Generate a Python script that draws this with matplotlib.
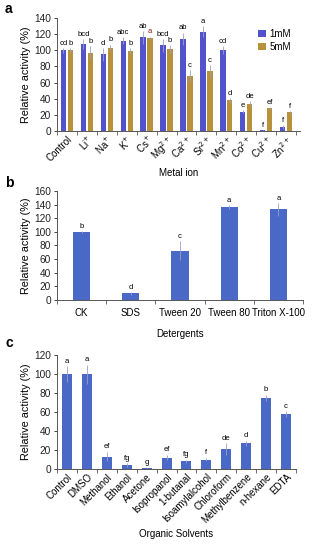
import matplotlib
matplotlib.use("Agg")
import matplotlib.pyplot as plt
import numpy as np

plt.rcParams['font.family'] = ['Liberation Sans', 'DejaVu Sans']

# Panel a
metals = ['Control', 'Li$^{+}$', 'Na$^{+}$', 'K$^{+}$', 'Cs$^{+}$', 'Mg$^{2+}$', 'Ca$^{2+}$',
          'Sr$^{2+}$', 'Mn$^{2+}$', 'Co$^{2+}$', 'Cu$^{2+}$', 'Zn$^{2+}$']
a_1mM = [100, 108, 95, 112, 116, 106, 114, 123, 100, 24, 1, 5]
a_1mM_err = [3, 6, 8, 4, 8, 8, 8, 7, 5, 2, 0.5, 2]
a_5mM = [100, 97, 103, 99, 115, 101, 68, 74, 38, 34, 28, 23]
a_5mM_err = [3, 8, 4, 4, 2, 5, 7, 8, 3, 3, 2, 2]
a_lab1 = ['cd', 'bcd', 'd', 'abc', 'ab', 'bcd', 'ab', 'a', 'cd', 'e', 'f', 'f']
a_lab5 = ['b', 'b', 'b', 'b', 'a', 'b', 'c', 'c', 'd', 'de', 'ef', 'f']

# Panel b
detergents = ['CK', 'SDS', 'Tween 20', 'Tween 80', 'Triton X-100']
b_vals = [100, 10, 72, 136, 133]
b_err = [1, 2, 14, 3, 10]
b_lab = ['b', 'd', 'c', 'a', 'a']

# Panel c
solvents = ['Control', 'DMSO', 'Methanol', 'Ethanol', 'Acetone', 'Isopropanol', '1-butanal',
            'Isoamylalcohol', 'Chloroform', 'Methylbenzene', 'n-hexane', 'EDTA']
c_vals = [100, 100, 13, 4, 1, 12, 8, 10, 21, 27, 75, 58]
c_err = [8, 10, 5, 2, 0.5, 3, 2, 2, 6, 3, 3, 3]
c_lab = ['a', 'a', 'ef', 'fg', 'g', 'ef', 'fg', 'f', 'de', 'd', 'b', 'c']

c1 = '#5252CC'
c5 = '#B8923A'
cb = '#4A68C6'
err_c = '#9AA0C8'

fig = plt.figure(figsize=(3.13, 5.5), dpi=100)
W, H = 313, 550

def ax_px(l, t, r, b):
    return fig.add_axes([l / W, 1 - b / H, (r - l) / W, (b - t) / H])

fs = 7
yfs = 7.8
lfs = 5.5

def style(ax):
    for s in ['top', 'right']:
        ax.spines[s].set_visible(False)
    for s in ['left', 'bottom']:
        ax.spines[s].set_color('#555555')
        ax.spines[s].set_linewidth(0.7)
    ax.tick_params(axis='y', labelsize=fs + 0.3, length=2.5, width=0.6, pad=2, colors='#222222')
    ax.tick_params(axis='x', which='major', length=0, labelsize=fs, pad=2)
    ax.tick_params(axis='x', which='minor', length=3, width=0.6, color='#555555')

# ---- a ----
ax = ax_px(57, 18, 300, 131)
n = len(metals)
x = np.arange(n)
w = 0.27
off = 0.175
ax.bar(x - off, a_1mM, w, color=c1, label='1mM', yerr=a_1mM_err,
       error_kw=dict(ecolor=err_c, lw=0.6, capsize=0), zorder=2)
ax.bar(x + off, a_5mM, w, color=c5, label='5mM', yerr=a_5mM_err,
       error_kw=dict(ecolor=err_c, lw=0.6, capsize=0), zorder=2)
for i in range(n):
    ax.text(x[i] - off, a_1mM[i] + a_1mM_err[i] + 1.5, a_lab1[i], ha='center', va='bottom', fontsize=lfs)
    ax.text(x[i] + off, a_5mM[i] + a_5mM_err[i] + 1.5, a_lab5[i], ha='center', va='bottom', fontsize=lfs,
            color='#8B1A1A' if a_lab5[i] == 'a' else 'black')
ax.set_xlim(-0.5, n - 0.3)
ax.set_ylim(0, 140)
ax.set_yticks(range(0, 141, 20))
ax.set_xticks(x)
ax.set_xticklabels(metals, rotation=45, ha='right', rotation_mode='anchor', fontsize=fs)
ax.set_xticks(np.arange(n + 1) - 0.5, minor=True)
style(ax)
ax.set_ylabel('Relative activity (%)', fontsize=yfs, labelpad=2)
ax.set_xlabel('Metal ion', fontsize=fs, labelpad=3)
ax.legend(loc='upper right', bbox_to_anchor=(1.0, 0.98), frameon=False, fontsize=fs,
          handlelength=0.8, handleheight=0.8, handletextpad=0.4, labelspacing=0.3)
fig.text(5 / W, 1 - 9 / H, 'a', fontsize=10, fontweight='bold', va='center')

# ---- b ----
ax = ax_px(57, 191, 303, 300)
n = len(detergents)
x = np.arange(n)
ax.bar(x, b_vals, 0.35, color=cb, yerr=b_err,
       error_kw=dict(ecolor=err_c, lw=0.6, capsize=0), zorder=2)
for i in range(n):
    ax.text(x[i], b_vals[i] + b_err[i] + 1.5, b_lab[i], ha='center', va='bottom', fontsize=lfs)
ax.set_xlim(-0.5, n - 0.5)
ax.set_ylim(0, 160)
ax.set_yticks(range(0, 161, 20))
ax.set_xticks(x)
ax.set_xticklabels(detergents, fontsize=fs)
ax.set_xticks(np.arange(n + 1) - 0.5, minor=True)
style(ax)
ax.tick_params(axis='x', which='major', pad=6)
ax.set_ylabel('Relative activity (%)', fontsize=yfs, labelpad=2)
ax.set_xlabel('Detergents', fontsize=fs, labelpad=8)
fig.text(5 / W, 1 - 183 / H, 'b', fontsize=10, fontweight='bold', va='center')

# ---- c ----
ax = ax_px(57, 355, 296, 469)
n = len(solvents)
x = np.arange(n)
ax.bar(x, c_vals, 0.5, color=cb, yerr=c_err,
       error_kw=dict(ecolor=err_c, lw=0.6, capsize=0), zorder=2)
for i in range(n):
    ax.text(x[i], c_vals[i] + c_err[i] + 1.5, c_lab[i], ha='center', va='bottom', fontsize=lfs)
ax.set_xlim(-0.45, n - 0.5)
ax.set_ylim(0, 120)
ax.set_yticks(range(0, 121, 20))
ax.set_xticks(x)
ax.set_xticklabels(solvents, rotation=45, ha='right', rotation_mode='anchor', fontsize=fs)
ax.set_xticks(np.arange(n + 1) - 0.5, minor=True)
style(ax)
ax.set_ylabel('Relative activity (%)', fontsize=yfs, labelpad=2)
ax.set_xlabel('Organic Solvents', fontsize=fs, labelpad=3)
fig.text(5 / W, 1 - 343 / H, 'c', fontsize=10, fontweight='bold', va='center')

fig.savefig('out.png', dpi=100)
